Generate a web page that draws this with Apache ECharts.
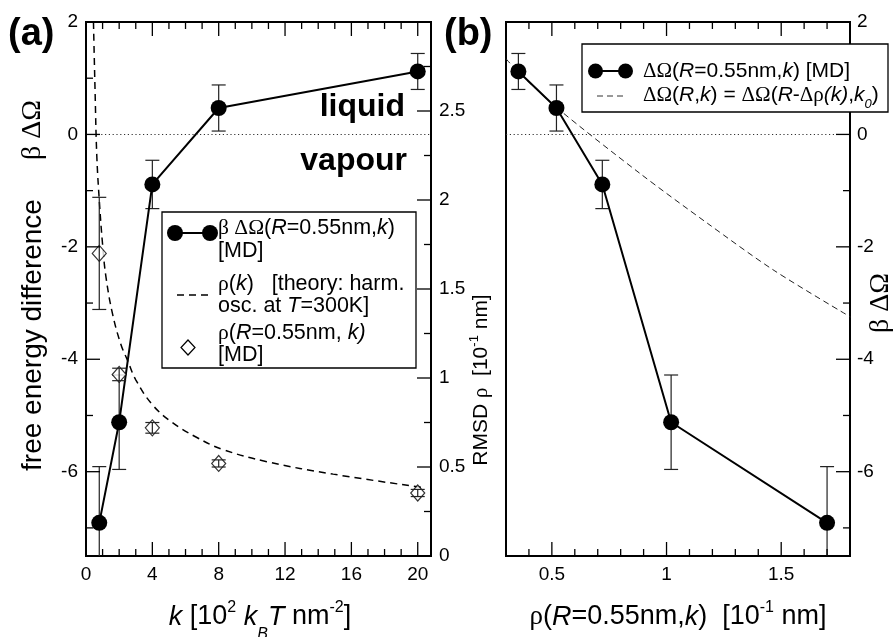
<!DOCTYPE html>
<html><head><meta charset="utf-8">
<script src="https://cdn.jsdelivr.net/npm/echarts@6/dist/echarts.min.js"></script>
<style>html,body{margin:0;padding:0;background:#fff}#c{width:893px;height:637px}</style>
</head><body><div id="c"></div>
<script>
// ---- data ----
const kValues   = [0.8, 2, 4, 8, 20];
const dOmegaMD  = [-6.91, -5.12, -0.89, 0.47, 1.12];
const dOmegaErr = [1.0, 0.84, 0.43, 0.41, 0.32];
const rhoMD     = [1.70, 1.02, 0.72, 0.52, 0.354];
const rhoErr    = [0.315, 0.035, 0.03, 0.02, 0.02];
const theoryK   = [0.45, 0.55, 0.65, 0.8, 1.0, 1.2, 1.6, 2.1, 2.5, 3.0, 4.0, 5.2, 6.6, 8.2, 10.9, 14.9, 20.3];
const theoryRho = [3.0, 2.6, 2.25, 2.0, 1.75, 1.57, 1.36, 1.19, 1.10, 0.99, 0.85, 0.75, 0.67, 0.60, 0.53, 0.46, 0.385];
const shiftRho    = [0.30, 0.351, 0.522, 0.886, 1.178, 1.469, 1.803];
const shiftOmega  = [1.346, 1.12, 0.474, -0.70, -1.58, -2.42, -3.25];
// tick labels
const kTickLabels     = [0, 4, 8, 12, 16, 20];
const omegaTickLabels = [-6, -4, -2, 0, 2];
const rmsdTickLabels  = [0, 0.5, 1, 1.5, 2, 2.5];
const rhoTickLabels   = [0.5, 1, 1.5];
// tick mark positions
const kMajorTicks     = [0, 4, 8, 12, 16, 20];
const kMinorTicks     = [1, 2, 3, 5, 6, 7, 9, 10, 11, 13, 14, 15, 17, 18, 19];
const omegaMajorTicks = [-6, -4, -2, 0, 2];
const omegaMinorTicks = [-7, -5, -3, -1, 1];
const rmsdMajorTicks  = [0, 0.5, 1, 1.5, 2, 2.5, 3];
const rmsdMinorTicks  = [0.25, 0.75, 1.25, 1.75, 2.25, 2.75];
const rhoMajorTicks   = [0.5, 1, 1.5];
const rhoMinorTicks   = [0.3, 0.4, 0.6, 0.7, 0.8, 0.9, 1.1, 1.2, 1.3, 1.4, 1.6, 1.7, 1.8];

const SANS = '"Liberation Sans", Arial, Helvetica, sans-serif';
const SERIF = '"Liberation Serif", "Times New Roman", serif';
const MAJ = 14, MIN = 7;

const GA = {left: 86, top: 22, width: 345, height: 534};
const GB = {left: 506, top: 22, width: 344, height: 534};

function gridOf(g) {
  return Object.assign({}, g, {
    show: true, borderColor: '#000', borderWidth: 2,
    backgroundColor: 'transparent', containLabel: false, outerBoundsMode: 'none'
  });
}

function valAxis(o) {
  return {
    type: 'value', gridIndex: o.grid, position: o.pos, min: o.min, max: o.max,
    minInterval: o.step, maxInterval: o.step,
    splitNumber: Math.max(1, Math.round((o.max - o.min) / o.step)),
    silent: true,
    axisLine: {show: false, onZero: false},
    splitLine: {show: false}, minorTick: {show: false}, minorSplitLine: {show: false},
    axisTick: {show: false},
    axisLabel: {
      show: true, margin: o.margin || 8, fontSize: 19, fontFamily: SANS, color: '#000',
      formatter: v => o.labels.some(t => Math.abs(t - v) < 1e-6) ? String(Math.round(v * 1000) / 1000) : ''
    }
  };
}

function errRender(params, api) {
  const x = api.value(0), y = api.value(1), e = api.value(2);
  const cs = params.coordSys;
  const top = cs.y, bot = cs.y + cs.height;
  const pT = api.coord([x, y + e]);
  const pB = api.coord([x, y - e]);
  const px = pT[0];
  const y1 = Math.max(pT[1], top), y2 = Math.min(pB[1], bot);
  const st = {stroke: '#222', lineWidth: 1.2};
  const ch = [{type: 'line', shape: {x1: px, y1: y1, x2: px, y2: y2}, style: st}];
  if (pT[1] >= top) ch.push({type: 'line', shape: {x1: px - 7, y1: pT[1], x2: px + 7, y2: pT[1]}, style: st});
  if (pB[1] <= bot) ch.push({type: 'line', shape: {x1: px - 7, y1: pB[1], x2: px + 7, y2: pB[1]}, style: st});
  return {type: 'group', children: ch};
}

const zeroLine = {
  silent: true, symbol: 'none', label: {show: false},
  lineStyle: {type: [1.2, 2.6], color: '#333', width: 1},
  emphasis: {disabled: true},
  data: [{yAxis: 0}]
};

function rich(size) {
  return {
    n: {fontSize: size, fontFamily: SANS, fill: '#000'},
    i: {fontSize: size, fontFamily: SANS, fontStyle: 'italic', fill: '#000'},
    g: {fontSize: size, fontFamily: SERIF, fill: '#000'},
    sup: {fontSize: Math.round(size * 0.6), fontFamily: SANS, fill: '#000', padding: [0, 0, Math.round(size * 0.66), 0]},
    sub: {fontSize: Math.round(size * 0.6), fontFamily: SANS, fontStyle: 'italic', fill: '#000', padding: [Math.round(size * 1.3), 0, 0, 0]},
    lsub: {fontSize: Math.round(size * 0.62), fontFamily: SANS, fontStyle: 'italic', fill: '#000', padding: [Math.round(size * 0.85), 0, 0, 0]}
  };
}

function txt(x, y, text, size, opts) {
  opts = opts || {};
  return {
    type: 'text', x: x, y: y, rotation: opts.rot || 0, z: 110, silent: true,
    style: {
      text: text, rich: rich(size), fontSize: size, fontFamily: opts.family || SANS,
      fontWeight: opts.weight || 'normal', fill: '#000',
      align: opts.align || 'center', verticalAlign: 'middle'
    }
  };
}

const graphics = [
  txt(8, 35, '(a)', 38, {align: 'left', weight: 'bold'}),
  txt(444, 35, '(b)', 38, {align: 'left', weight: 'bold'}),
  txt(405, 107, 'liquid', 32, {align: 'right', weight: 'bold'}),
  txt(407, 161, 'vapour', 32, {align: 'right', weight: 'bold'}),
  txt(33, 335, '{n|free energy difference}', 28, {rot: Math.PI / 2}),
  txt(33, 130, '{g|β ΔΩ}', 28, {rot: Math.PI / 2}),
  txt(881, 303, '{g|β ΔΩ}', 28, {rot: Math.PI / 2}),
  txt(481, 380, '{n|RMSD }{g|ρ}{n|  [10}{sup|-1}{n| nm]}', 21, {rot: Math.PI / 2}),
  txt(260, 617, '{i|k}{n| [10}{sup|2}{n| }{i|k}{sub|B}{i|T}{n| nm}{sup|-2}{n|]}', 27),
  txt(678, 617, '{g|ρ}{n|(}{i|R}{n|=0.55nm,}{i|k}{n|)  [10}{sup|-1}{n| nm]}', 27),
  // legend (a)
  {type: 'rect', z: 100, silent: true, shape: {x: 162, y: 212, width: 254, height: 156}, style: {fill: '#fff', stroke: '#000', lineWidth: 1.3}},
  {type: 'line', z: 101, silent: true, shape: {x1: 175, y1: 233, x2: 210, y2: 233}, style: {stroke: '#000', lineWidth: 2}},
  {type: 'circle', z: 101, silent: true, shape: {cx: 175, cy: 233, r: 8}, style: {fill: '#000'}},
  {type: 'circle', z: 101, silent: true, shape: {cx: 210, cy: 233, r: 8}, style: {fill: '#000'}},
  {type: 'line', z: 101, silent: true, shape: {x1: 177, y1: 295, x2: 208, y2: 295}, style: {stroke: '#000', lineWidth: 1.5, lineDash: [7, 5]}},
  {type: 'polygon', z: 101, silent: true, shape: {points: [[188, 340], [195, 347.5], [188, 355], [181, 347.5]]}, style: {fill: '#fff', stroke: '#000', lineWidth: 1.2}},
  txt(218, 228, '{g|β ΔΩ}{n|(}{i|R}{n|=0.55nm,}{i|k}{n|)}', 21.5, {align: 'left'}),
  txt(218, 251, '{n|[MD]}', 21.5, {align: 'left'}),
  txt(218, 284, '{g|ρ}{n|(}{i|k}{n|)   [theory: harm.}', 21.5, {align: 'left'}),
  txt(218, 306, '{n|osc. at }{i|T}{n|=300K]}', 21.5, {align: 'left'}),
  txt(218, 333, '{g|ρ}{n|(}{i|R}{n|=0.55nm, }{i|k)}', 21.5, {align: 'left'}),
  txt(218, 355, '{n|[MD]}', 21.5, {align: 'left'}),
  // legend (b)
  {type: 'rect', z: 100, silent: true, shape: {x: 582, y: 44, width: 306, height: 68}, style: {fill: '#fff', stroke: '#000', lineWidth: 1.3}},
  {type: 'line', z: 101, silent: true, shape: {x1: 595.5, y1: 71, x2: 625.5, y2: 71}, style: {stroke: '#000', lineWidth: 2}},
  {type: 'circle', z: 101, silent: true, shape: {cx: 595.5, cy: 71, r: 7.5}, style: {fill: '#000'}},
  {type: 'circle', z: 101, silent: true, shape: {cx: 625.5, cy: 71, r: 7.5}, style: {fill: '#000'}},
  {type: 'line', z: 101, silent: true, shape: {x1: 597, y1: 96, x2: 625, y2: 96}, style: {stroke: '#333', lineWidth: 1, lineDash: [6, 4]}},
  txt(643, 71, '{g|ΔΩ}{n|(}{i|R}{n|=0.55nm,}{i|k}{n|) [MD]}', 21, {align: 'left'}),
  txt(643, 95, '{g|ΔΩ}{n|(}{i|R}{n|,}{i|k}{n|) = }{g|ΔΩ}{n|(}{i|R}{n|-}{g|Δρ}{i|(k)}{n|,}{i|k}{lsub|0}{n|)}', 21, {align: 'left'})
];

const option = {
  animation: false,
  backgroundColor: '#fff',
  grid: [gridOf(GA), gridOf(GB)],
  xAxis: [
    valAxis({grid: 0, pos: 'bottom', min: 0, max: 20.8, step: 4, labels: kTickLabels, margin: 9}),
    valAxis({grid: 1, pos: 'bottom', min: 0.3, max: 1.8, step: 0.5, labels: rhoTickLabels, margin: 9})
  ],
  yAxis: [
    valAxis({grid: 0, pos: 'left', min: -7.5, max: 2, step: 2, labels: omegaTickLabels, margin: 8}),
    valAxis({grid: 0, pos: 'right', min: 0, max: 3, step: 0.5, labels: rmsdTickLabels, margin: 8}),
    valAxis({grid: 1, pos: 'right', min: -7.5, max: 2, step: 2, labels: omegaTickLabels, margin: 7})
  ],
  series: [
    {
      type: 'custom', name: 'errA', xAxisIndex: 0, yAxisIndex: 0, z: 2, silent: true,
      encode: {x: 0, y: 1}, renderItem: errRender,
      data: kValues.map((k, i) => [k, dOmegaMD[i], dOmegaErr[i]])
    },
    {
      type: 'line', name: 'MD a', xAxisIndex: 0, yAxisIndex: 0, z: 3, silent: true,
      data: kValues.map((k, i) => [k, dOmegaMD[i]]),
      symbol: 'circle', symbolSize: 16, showSymbol: true,
      lineStyle: {color: '#000', width: 2}, itemStyle: {color: '#000'},
      markLine: zeroLine
    },
    {
      type: 'line', name: 'theory a', xAxisIndex: 0, yAxisIndex: 1, z: 2, silent: true,
      data: theoryK.map((k, i) => [k, theoryRho[i]]), smooth: 0.4, showSymbol: false, symbol: 'none',
      lineStyle: {color: '#000', width: 1.5, type: [7, 5]}
    },
    {
      type: 'scatter', name: 'rho MD', xAxisIndex: 0, yAxisIndex: 1, z: 4, silent: true,
      data: kValues.map((k, i) => [k, rhoMD[i]]),
      symbol: 'diamond', symbolSize: [14, 16],
      itemStyle: {color: '#fff', borderColor: '#000', borderWidth: 1.2}
    },
    {
      type: 'custom', name: 'errRho', xAxisIndex: 0, yAxisIndex: 1, z: 5, silent: true,
      encode: {x: 0, y: 1}, renderItem: errRender,
      data: kValues.map((k, i) => [k, rhoMD[i], rhoErr[i]])
    },
    {
      type: 'custom', name: 'errB', xAxisIndex: 1, yAxisIndex: 2, z: 2, silent: true,
      encode: {x: 0, y: 1}, renderItem: errRender,
      data: rhoMD.map((r, i) => [r, dOmegaMD[i], dOmegaErr[i]])
    },
    {
      type: 'line', name: 'shift b', xAxisIndex: 1, yAxisIndex: 2, z: 2, silent: true,
      data: shiftRho.map((r, i) => [r, shiftOmega[i]]), smooth: 0.3, showSymbol: false, symbol: 'none',
      lineStyle: {color: '#222', width: 1, type: [6, 4]}
    },
    {
      type: 'line', name: 'MD b', xAxisIndex: 1, yAxisIndex: 2, z: 3, silent: true,
      data: rhoMD.map((r, i) => [r, dOmegaMD[i]]),
      symbol: 'circle', symbolSize: 16, showSymbol: true,
      lineStyle: {color: '#000', width: 2}, itemStyle: {color: '#000'},
      markLine: zeroLine
    }
  ]
};

const chart = echarts.init(document.getElementById('c'), null, {renderer: 'canvas', width: 893, height: 637});
chart.setOption(option);

// tick marks: positions converted through the axes' own scales
const tickEls = [];
const TS = {stroke: '#000', lineWidth: 1.3};
function vTicks(xAxisIndex, values, len, g) {
  values.forEach(v => {
    const px = chart.convertToPixel({xAxisIndex: xAxisIndex}, v);
    if (px == null || isNaN(px)) return;
    const bot = g.top + g.height, top = g.top;
    tickEls.push({type: 'line', z: 50, silent: true, shape: {x1: px, y1: bot, x2: px, y2: bot - len}, style: TS});
    tickEls.push({type: 'line', z: 50, silent: true, shape: {x1: px, y1: top, x2: px, y2: top + len}, style: TS});
  });
}
function hTicks(yAxisIndex, values, len, edgeX, dir) {
  values.forEach(v => {
    const py = chart.convertToPixel({yAxisIndex: yAxisIndex}, v);
    if (py == null || isNaN(py)) return;
    tickEls.push({type: 'line', z: 50, silent: true, shape: {x1: edgeX, y1: py, x2: edgeX + dir * len, y2: py}, style: TS});
  });
}
try {
  vTicks(0, kMajorTicks, MAJ, GA); vTicks(0, kMinorTicks, MIN, GA);
  hTicks(0, omegaMajorTicks, MAJ, GA.left, 1); hTicks(0, omegaMinorTicks, MIN, GA.left, 1);
  hTicks(1, rmsdMajorTicks, MAJ, GA.left + GA.width, -1); hTicks(1, rmsdMinorTicks, MIN, GA.left + GA.width, -1);
  vTicks(1, rhoMajorTicks, MAJ, GB); vTicks(1, rhoMinorTicks, MIN, GB);
  hTicks(2, omegaMajorTicks, MAJ, GB.left + GB.width, -1); hTicks(2, omegaMinorTicks, MIN, GB.left + GB.width, -1);
} catch (e) { /* keep chart even if conversion fails */ }

chart.setOption({graphic: graphics.concat(tickEls)});
</script>
</body></html>
